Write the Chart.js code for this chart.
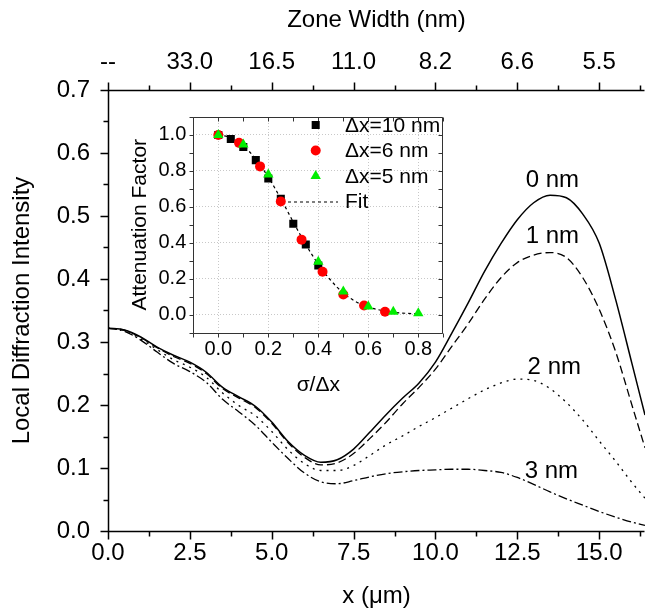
<!DOCTYPE html>
<html>
<head>
<meta charset="utf-8">
<script src="https://cdn.jsdelivr.net/npm/chart.js@4.4.0/dist/chart.umd.min.js"></script>
<style>
  html, body { margin: 0; padding: 0; background: #fff; }
  #wrap { position: relative; width: 645px; height: 611px; overflow: hidden; }
  #mainChart { position: absolute; left: 0; top: 0; }
  #insetChart { position: absolute; left: 125px; top: 98px; }
</style>
</head>
<body>
<div id="wrap">
  <canvas id="mainChart" width="645" height="611"></canvas>
  <canvas id="insetChart" width="325" height="300"></canvas>
</div>
<script>
// main plot: local diffraction intensity along x, one curve per roughness
const xPos = [0, 0.5, 1, 1.5, 2, 2.5, 3, 3.5, 4, 4.5, 5, 5.5, 6, 6.5, 7, 7.5, 8, 8.5,
  9, 9.5, 10, 10.5, 11, 11.5, 12, 12.5, 13, 13.5, 14, 14.5, 15, 15.5, 16, 16.4];
const int0nm = [0.322, 0.319, 0.308, 0.292, 0.279, 0.268, 0.252, 0.228, 0.213, 0.198, 0.173, 0.142,
  0.120, 0.109, 0.113, 0.130, 0.157, 0.185, 0.211, 0.235, 0.268, 0.314, 0.362, 0.412, 0.456, 0.494,
  0.521, 0.533, 0.529, 0.503, 0.457, 0.368, 0.266, 0.184];
const int1nm = [0.322, 0.319, 0.307, 0.291, 0.277, 0.266, 0.250, 0.226, 0.211, 0.196, 0.171, 0.140,
  0.117, 0.105, 0.108, 0.123, 0.147, 0.173, 0.202, 0.228, 0.257, 0.293, 0.329, 0.368, 0.402, 0.426,
  0.438, 0.442, 0.434, 0.402, 0.352, 0.285, 0.200, 0.132];
const int2nm = [0.322, 0.318, 0.305, 0.288, 0.272, 0.260, 0.244, 0.219, 0.199, 0.183, 0.158, 0.129,
  0.107, 0.096, 0.096, 0.104, 0.120, 0.137, 0.151, 0.166, 0.180, 0.195, 0.210, 0.224, 0.235, 0.241,
  0.239, 0.226, 0.204, 0.176, 0.143, 0.111, 0.077, 0.052];
const int3nm = [0.322, 0.317, 0.303, 0.284, 0.266, 0.253, 0.236, 0.209, 0.189, 0.168, 0.141, 0.115,
  0.092, 0.078, 0.075, 0.080, 0.086, 0.091, 0.094, 0.096, 0.097, 0.098, 0.098, 0.096, 0.093, 0.085,
  0.074, 0.062, 0.051, 0.041, 0.031, 0.022, 0.014, 0.009];
const curveNames = ['0 nm', '1 nm', '2 nm', '3 nm'];
const curveLabelX = [13.57, 13.57, 13.63, 13.54];
const curveLabelY = [0.557, 0.467, 0.260, 0.095];
const zoneWidthLabels = ['--', '33.0', '16.5', '11.0', '8.2', '6.6', '5.5'];

// inset: attenuation factor vs sigma/dx
const sig10 = [0, 0.05, 0.1, 0.15, 0.2, 0.25, 0.3, 0.35, 0.4];
const att10 = [1.0, 0.977, 0.933, 0.86, 0.758, 0.645, 0.506, 0.39, 0.273];
const sig6 = [0, 0.083, 0.167, 0.25, 0.333, 0.417, 0.5, 0.583, 0.667];
const att6 = [1.0, 0.956, 0.825, 0.629, 0.417, 0.238, 0.112, 0.05, 0.016];
const sig5 = [0, 0.1, 0.2, 0.4, 0.5, 0.6, 0.7, 0.8];
const att5 = [1.0, 0.947, 0.78, 0.294, 0.128, 0.045, 0.016, 0.007];
const fitSig = [0, 0.05, 0.1, 0.15, 0.2, 0.25, 0.3, 0.35, 0.4, 0.45, 0.5, 0.55, 0.6, 0.65, 0.7, 0.75, 0.8];
const fitAtt = [1.0, 0.985, 0.94, 0.865, 0.765, 0.645, 0.515, 0.39, 0.28, 0.19, 0.12, 0.072, 0.042,
  0.024, 0.013, 0.007, 0.004];
const legendNames = ['\u0394x=10 nm', '\u0394x=6 nm', '\u0394x=5 nm', 'Fit'];

const FONT = 'Arial, "Liberation Sans", sans-serif';

function pts(xs, ys) {
  return xs.map((x, i) => ({ x: x, y: ys[i] }));
}

// frame lines + major/minor tick marks drawn from the scales
const axisTicks = {
  id: 'axisTicks',
  afterDraw(chart, args, opts) {
    const ctx = chart.ctx, a = chart.chartArea;
    ctx.save();
    ctx.strokeStyle = opts.color;
    ctx.lineWidth = opts.width;
    ctx.beginPath();
    const L = Math.round(a.left) + 0.5, R = Math.round(a.right) - 0.5;
    const T = Math.round(a.top) + 0.5, B = Math.round(a.bottom) + 0.5;
    opts.frame.forEach(side => {
      if (side === 'left') { ctx.moveTo(L, T); ctx.lineTo(L, B); }
      if (side === 'right') { ctx.moveTo(R, T); ctx.lineTo(R, B); }
      if (side === 'top') { ctx.moveTo(L, T); ctx.lineTo(R, T); }
      if (side === 'bottom') { ctx.moveTo(L, B); ctx.lineTo(R, B); }
    });
    opts.sides.forEach(s => {
      const sc = chart.scales[s.scale];
      const k0 = Math.ceil(sc.min / s.minor - 1e-6);
      for (let k = k0; k * s.minor <= sc.max + 1e-6; k++) {
        const v = k * s.minor;
        const r = v / s.major;
        const major = Math.abs(r - Math.round(r)) < 1e-6;
        const len = (major ? s.len : s.minorLen) * (s.inward ? -1 : 1);
        const p = Math.round(sc.getPixelForValue(v)) + 0.5;
        if (s.side === 'left') { ctx.moveTo(L, p); ctx.lineTo(L - len, p); }
        if (s.side === 'right') { ctx.moveTo(R, p); ctx.lineTo(R + len, p); }
        if (s.side === 'top') { ctx.moveTo(p, T); ctx.lineTo(p, T - len); }
        if (s.side === 'bottom') { ctx.moveTo(p, B); ctx.lineTo(p, B + len); }
      }
    });
    ctx.stroke();
    ctx.restore();
  }
};

const curveLabels = {
  id: 'curveLabels',
  afterDatasetsDraw(chart) {
    const ctx = chart.ctx, xs = chart.scales.x, ys = chart.scales.y;
    ctx.save();
    ctx.fillStyle = '#000';
    ctx.font = '24px ' + FONT;
    ctx.textAlign = 'center';
    ctx.textBaseline = 'middle';
    curveNames.forEach((t, i) => {
      ctx.fillText(t, xs.getPixelForValue(curveLabelX[i]), ys.getPixelForValue(curveLabelY[i]));
    });
    ctx.restore();
  }
};

function drawMarker(ctx, style, x, y, r, color) {
  ctx.fillStyle = color;
  ctx.beginPath();
  if (style === 'rect') {
    const h = r * Math.SQRT1_2;
    ctx.rect(x - h, y - h, 2 * h, 2 * h);
  } else if (style === 'triangle') {
    for (let i = 0; i < 3; i++) {
      const ang = i * 2 * Math.PI / 3;
      const px = x + Math.sin(ang) * r, py = y - Math.cos(ang) * r;
      if (i === 0) ctx.moveTo(px, py); else ctx.lineTo(px, py);
    }
    ctx.closePath();
  } else {
    ctx.arc(x, y, r, 0, Math.PI * 2);
  }
  ctx.fill();
}

const insetLegend = {
  id: 'insetLegend',
  afterDraw(chart, args, opts) {
    const ctx = chart.ctx;
    ctx.save();
    ctx.font = '21px ' + FONT;
    ctx.textBaseline = 'middle';
    ctx.textAlign = 'left';
    chart.data.datasets.forEach((ds, i) => {
      const y = opts.y0 + i * opts.dy;
      if (ds.showLine) {
        ctx.strokeStyle = ds.borderColor;
        ctx.lineWidth = ds.borderWidth;
        ctx.setLineDash(ds.borderDash);
        ctx.beginPath();
        ctx.moveTo(opts.lineX0, y + 0.5);
        ctx.lineTo(opts.lineX1, y + 0.5);
        ctx.stroke();
        ctx.setLineDash([]);
      } else {
        drawMarker(ctx, ds.pointStyle, opts.markerX, y, ds.pointRadius, ds.backgroundColor);
      }
      ctx.fillStyle = '#000';
      ctx.fillText(legendNames[i], opts.textX, y + 1);
    });
    ctx.restore();
  }
};

const insetBg = {
  id: 'insetBg',
  beforeDraw(chart) {
    const a = chart.chartArea, ctx = chart.ctx;
    ctx.save();
    ctx.fillStyle = '#fff';
    ctx.fillRect(a.left, a.top, a.right - a.left, a.bottom - a.top);
    ctx.restore();
  }
};

const lineBase = { pointRadius: 0, borderColor: '#000', fill: false, cubicInterpolationMode: 'monotone' };

new Chart(document.getElementById('mainChart'), {
  type: 'line',
  data: {
    datasets: [
      Object.assign({ label: curveNames[0], data: pts(xPos, int0nm), borderWidth: 1.5, borderDash: [] }, lineBase),
      Object.assign({ label: curveNames[1], data: pts(xPos, int1nm), borderWidth: 1.3, borderDash: [8, 4] }, lineBase),
      Object.assign({ label: curveNames[2], data: pts(xPos, int2nm), borderWidth: 1.3, borderDash: [2, 5] }, lineBase),
      Object.assign({ label: curveNames[3], data: pts(xPos, int3nm), borderWidth: 1.3, borderDash: [9, 3, 2, 3] }, lineBase)
    ]
  },
  options: {
    responsive: false,
    animation: false,
    devicePixelRatio: 1,
    layout: { padding: 0 },
    plugins: {
      legend: { display: false },
      tooltip: { enabled: false },
      axisTicks: {
        color: '#000', width: 1.5,
        frame: ['left', 'top', 'bottom'],
        sides: [
          { scale: 'y', side: 'left', major: 0.1, minor: 0.05, len: 8, minorLen: 5 },
          { scale: 'x', side: 'bottom', major: 2.5, minor: 1.25, len: 8, minorLen: 5 },
          { scale: 'x2', side: 'top', major: 2.5, minor: 1.25, len: 8, minorLen: 5 }
        ]
      }
    },
    scales: {
      x: {
        type: 'linear', position: 'bottom', min: 0, max: 16.4,
        grid: { display: false, drawTicks: false },
        border: { display: false },
        ticks: {
          stepSize: 2.5, includeBounds: false, padding: 8, color: '#000', maxRotation: 0, autoSkip: false,
          font: { family: FONT, size: 24 }, callback: v => v.toFixed(1)
        },
        title: { display: true, text: 'x (\u03bcm)', color: '#000', font: { family: FONT, size: 24 }, padding: { top: 0, bottom: 0 } },
        afterFit: s => { s.height = 80; }
      },
      x2: {
        type: 'linear', position: 'top', min: 0, max: 16.4,
        grid: { display: false, drawTicks: false },
        border: { display: false },
        ticks: {
          stepSize: 2.5, includeBounds: false, padding: 13, color: '#000', maxRotation: 0, autoSkip: false,
          font: { family: FONT, size: 24 }, callback: v => zoneWidthLabels[Math.round(v / 2.5)]
        },
        title: { display: true, text: 'Zone Width (nm)', color: '#000', font: { family: FONT, size: 24 }, padding: { top: 6, bottom: 0 } },
        afterFit: s => { s.height = 90; }
      },
      y: {
        type: 'linear', min: 0, max: 0.7,
        grid: { display: false, drawTicks: false },
        border: { display: false },
        ticks: { stepSize: 0.1, padding: 18, color: '#000', font: { family: FONT, size: 24 }, callback: v => v.toFixed(1) },
        title: { display: true, text: 'Local Diffraction Intensity', color: '#000', font: { family: FONT, size: 24 }, padding: { top: 8, bottom: 0 } },
        afterFit: s => { s.width = 108; }
      }
    }
  },
  plugins: [axisTicks, curveLabels]
});

const evenTenth = v => Math.round(v * 10) % 2 === 0;

new Chart(document.getElementById('insetChart'), {
  type: 'scatter',
  data: {
    datasets: [
      { label: legendNames[0], data: pts(sig10, att10), pointStyle: 'rect', pointRadius: 5.7, backgroundColor: '#000', borderWidth: 0, showLine: false, order: 2 },
      { label: legendNames[1], data: pts(sig6, att6), pointStyle: 'circle', pointRadius: 5, backgroundColor: '#ff0000', borderWidth: 0, showLine: false, order: 1 },
      { label: legendNames[2], data: pts(sig5, att5), pointStyle: 'triangle', pointRadius: 6, backgroundColor: '#00ee00', borderWidth: 0, showLine: false, order: 0 },
      { label: legendNames[3], data: pts(fitSig, fitAtt), showLine: true, pointRadius: 0, borderColor: '#000', borderWidth: 1.2, borderDash: [3, 3], cubicInterpolationMode: 'monotone', order: 3 }
    ]
  },
  options: {
    responsive: false,
    animation: false,
    devicePixelRatio: 1,
    layout: { padding: { left: 0, top: 6, right: 6.7, bottom: 0 } },
    plugins: {
      legend: { display: false },
      tooltip: { enabled: false },
      axisTicks: {
        color: '#333', width: 1,
        frame: ['left', 'top', 'right', 'bottom'],
        sides: [
          { scale: 'y', side: 'left', major: 0.2, minor: 0.1, len: 4, minorLen: 4 },
          { scale: 'x', side: 'bottom', major: 0.2, minor: 0.1, len: 4, minorLen: 4 },
          { scale: 'y', side: 'right', major: 0.2, minor: 0.1, len: 4, minorLen: 4, inward: true },
          { scale: 'x', side: 'top', major: 0.2, minor: 0.1, len: 4, minorLen: 4, inward: true }
        ]
      },
      insetLegend: { markerX: 190.7, textX: 220, lineX0: 163, lineX1: 213, y0: 27, dy: 25.5 }
    },
    scales: {
      x: {
        type: 'linear', min: -0.1, max: 0.9,
        grid: { drawTicks: false, lineWidth: 1, color: c => (c.tick && evenTenth(c.tick.value)) ? '#c8c8c8' : 'rgba(0,0,0,0)' },
        border: { display: false, dash: [1, 2] },
        ticks: { stepSize: 0.1, padding: 5, color: '#000', maxRotation: 0, autoSkip: false, font: { family: FONT, size: 20 },
          callback: v => evenTenth(v) ? Math.abs(v).toFixed(1) : '' },
        title: { display: true, text: '\u03c3/\u0394x', color: '#000', font: { family: FONT, size: 21 }, padding: { top: 0, bottom: 0 } },
        afterFit: s => { s.height = 65.5; }
      },
      y: {
        type: 'linear', min: -0.1, max: 1.1,
        grid: { drawTicks: false, lineWidth: 1, color: c => (c.tick && evenTenth(c.tick.value)) ? '#c8c8c8' : 'rgba(0,0,0,0)' },
        border: { display: false, dash: [1, 2] },
        ticks: { stepSize: 0.1, padding: 7, color: '#000', autoSkip: false, font: { family: FONT, size: 20 },
          callback: v => evenTenth(v) ? Math.abs(v).toFixed(1) : '' },
        title: { display: true, text: 'Attenuation Factor', color: '#000', font: { family: FONT, size: 21 }, padding: { top: 3, bottom: 0 } },
        afterFit: s => { s.width = 68.3; }
      }
    }
  },
  plugins: [insetBg, axisTicks, insetLegend]
});
</script>
</body>
</html>
